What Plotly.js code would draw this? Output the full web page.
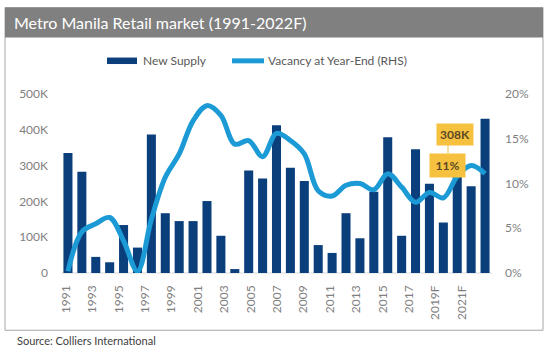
<!DOCTYPE html>
<html>
<head>
<meta charset="utf-8">
<script src="https://cdn.plot.ly/plotly-3.0.1.min.js"></script>
<style>html,body{margin:0;padding:0;background:#fff;}#chart{width:551px;height:354px;}</style>
</head>
<body>
<div id="chart"></div>
<script>
// ---- data ----
const years = ['1991','1992','1993','1994','1995','1996','1997','1998','1999','2000','2001','2002','2003','2004','2005','2006','2007','2008','2009','2010','2011','2012','2013','2014','2015','2016','2017','2018','2019','2020','2021'];
const newSupply = [335000,283000,45000,30000,134000,71000,387000,167000,145000,145000,201000,104000,11000,286000,264000,413000,294000,257000,78000,56000,167000,97000,227000,379000,104000,346000,249000,141000,308000,242000,431000];
const vacancy = [0.2,4.6,5.5,6.2,3.6,0.2,6.0,10.7,13.3,17.0,18.7,17.6,14.4,14.8,13.0,15.6,14.8,13.3,9.2,8.6,9.8,10.0,9.3,11.1,9.6,7.9,9.0,8.4,10.8,12.0,11.1];
const xTickLabels = ['1991','1992','1993','1994','1995','1996','1997','1998','1999','2000','2001','2002','2003','2004','2005','2006','2007','2008','2009','2010','2011','2012','2013','2014','2015','2016','2017','2018','2019F','2020F','2021F','2022F'];
const leftTickVals = [0,100000,200000,300000,400000,500000];
const leftTickText = ['0','100K','200K','300K','400K','500K'];
const rightTickVals = [0,5,10,15,20];
const rightTickText = ['0%','5%','10%','15%','20%'];
const highlightYear = '2019';

// ---- geometry ----
const W = 551, H = 354;
const L = 61, R = 492, T = 93.5, B = 272.7;
const pw = R - L, ph = B - T;
const px = v => (v - L) / pw;
const py = v => 1 - (v - T) / ph;

const navy = '#0b3f7c';
const sky = '#1b9ad6';
const gold = '#f6c13f';
const grey = '#7f7f7f';
const font = 'Lato, "Open Sans", sans-serif';

const hi = years.indexOf(highlightYear);
const supplyLabel = Math.round(newSupply[hi] / 1000) + 'K';
const vacLabel = Math.round(vacancy[hi]) + '%';

const traces = [
  {type:'bar', x: years, y: newSupply, marker:{color: navy}, name:'New Supply', showlegend:false, hoverinfo:'skip'},
  {type:'scatter', mode:'lines', x: years, y: vacancy, yaxis:'y2', line:{color: sky, width:5, shape:'spline', smoothing:1}, name:'Vacancy at Year-End (RHS)', showlegend:false, hoverinfo:'skip'},
  {type:'scatter', mode:'lines', x: xTickLabels, y: xTickLabels.map(() => null), xaxis:'x2', showlegend:false, hoverinfo:'skip'}
];

const layout = {
  width: W, height: H, autosize:false,
  margin:{l:L, r:W-R, t:T, b:H-B, pad:0},
  paper_bgcolor:'#fff', plot_bgcolor:'rgba(0,0,0,0)',
  font:{family: font, color: grey, size:12},
  bargap: 0.35,
  xaxis:{type:'category', range:[-0.5, years.length-0.5], showticklabels:false, showgrid:false, zeroline:false, showline:false, ticks:''},
  xaxis2:{type:'category', overlaying:'x', side:'bottom', anchor:'y',
    range:[(L-66)/13.2, (R-66)/13.2], tickmode:'linear', tick0:0, dtick:2,
    tickangle:-90, ticks:'', showgrid:false, zeroline:false, showline:false,
    tickfont:{family:font, size:12, color:grey}, ticklabelstandoff:9},
  yaxis:{range:[0,500000], tickvals:leftTickVals, ticktext:leftTickText, showgrid:false, zeroline:false, showline:false, ticks:'', tickfont:{family:font,size:12,color:grey}, ticklabelstandoff:12},
  yaxis2:{range:[0,20], overlaying:'y', side:'right', tickvals:rightTickVals, ticktext:rightTickText, showgrid:false, zeroline:false, showline:false, ticks:'', tickfont:{family:font,size:12,color:grey}, ticklabelstandoff:12},
  shapes:[
    {type:'rect', xref:'paper', yref:'paper', x0:px(5), x1:px(543), y0:py(7), y1:py(330), line:{color:'#a6a6a6', width:1}, fillcolor:'rgba(0,0,0,0)', layer:'below'},
    {type:'rect', xref:'paper', yref:'paper', x0:px(5), x1:px(543), y0:py(7), y1:py(37), line:{width:0}, fillcolor:'#808080', layer:'below'},
    {type:'rect', xref:'paper', yref:'paper', x0:px(107), x1:px(137), y0:py(57), y1:py(63.5), line:{width:0}, fillcolor:navy},
    {type:'line', xref:'paper', yref:'paper', x0:px(232), x1:px(264), y0:py(60.3), y1:py(60.3), line:{color:sky, width:5}},
    {type:'line', xref:'paper', yref:'paper', x0:0, x1:1, y0:0, y1:0, line:{color:'#d9d9d9', width:1}, layer:'below'},
    {type:'line', xref:'paper', yref:'paper', x0:px(448), x1:px(448), y0:py(143), y1:py(153), line:{color:gold, width:1}}
  ],
  annotations:[
    {xref:'paper', yref:'paper', x:px(12), y:py(22), xanchor:'left', yanchor:'middle', text:'Metro Manila Retail market (1991-2022F)', showarrow:false, font:{family:font, size:16, color:'#ffffff'}},
    {xref:'paper', yref:'paper', x:px(141), y:py(60), xanchor:'left', yanchor:'middle', text:'New Supply', showarrow:false, font:{family:font, size:12, color:'#595959'}},
    {xref:'paper', yref:'paper', x:px(266), y:py(60), xanchor:'left', yanchor:'middle', text:'Vacancy at Year-End (RHS)', showarrow:false, font:{family:font, size:12, color:'#595959'}},
    {xref:'paper', yref:'paper', x:px(15), y:py(340), xanchor:'left', yanchor:'middle', text:'Source: Colliers International', showarrow:false, font:{family:font, size:11, color:'#404040'}},
    {xref:'paper', yref:'paper', x:px(455), y:py(134), xanchor:'center', yanchor:'middle', text:'<b>'+supplyLabel+'</b>', showarrow:false, bgcolor:gold, borderpad:3, width:30, font:{family:font, size:12, color:'#5a4a24'}},
    {xref:'paper', yref:'paper', x:px(447.5), y:py(165), xanchor:'center', yanchor:'middle', text:'<b>'+vacLabel+'</b>', showarrow:false, bgcolor:gold, borderpad:4, width:27, font:{family:font, size:12, color:'#5a4a24'}}
  ]
};

Plotly.newPlot('chart', traces, layout, {staticPlot:true, displayModeBar:false});
</script>
</body>
</html>
